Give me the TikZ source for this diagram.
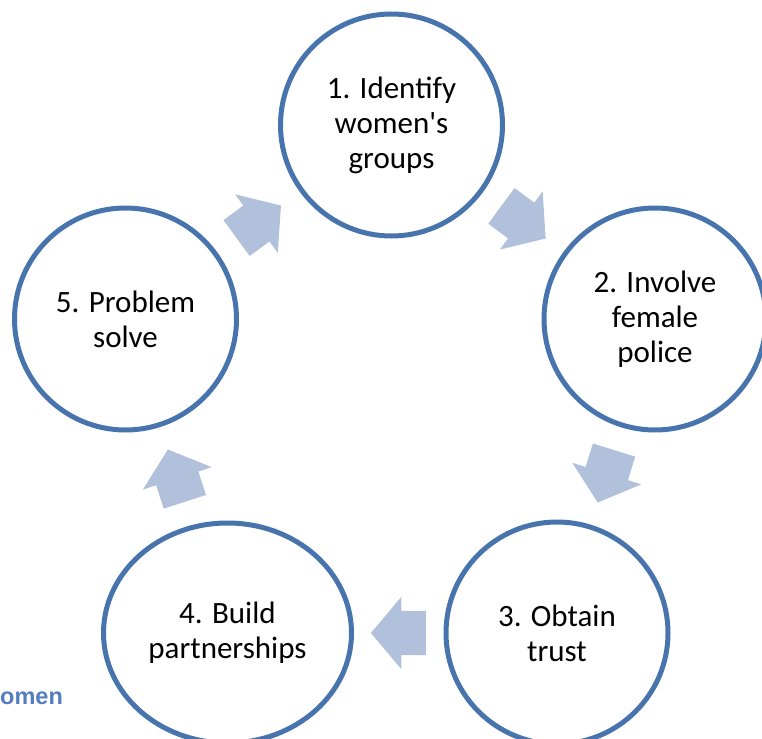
\documentclass[tikz,border=0pt]{standalone}
\usepackage{fontspec}
\newfontfamily\stagefont{Carlito}
\newfontfamily\capfont{Liberation Sans}
\usetikzlibrary{shapes.geometric,shapes.arrows}
\definecolor{ringblue}{RGB}{72,116,173}
\definecolor{arrowfill}{RGB}{178,193,219}
\definecolor{capblue}{RGB}{82,126,192}
\tikzset{
  stage/.style={circle,draw=ringblue,line width=5pt,minimum size=222pt,inner sep=0pt,align=center,font=\stagefont\fontsize{31}{35}\selectfont},
  wide/.style={ellipse,minimum width=248pt,minimum height=220pt},
  cyc/.style={single arrow,fill=arrowfill,inner xsep=0pt,inner ysep=22pt,minimum height=55pt,single arrow head extend=14pt,single arrow tip angle=100,sloped,allow upside down,xshift=-9pt}
}

\begin{document}
\begin{tikzpicture}[x=1pt,y=-1pt]
\useasboundingbox (0,0) rectangle (762,738);
\clip (0,0) rectangle (762,738);
\node[stage] (c1) at (391.5,125) {1. Identify\\women's\\groups};
\node[stage] (c2) at (655,319) {2. Involve\\female\\police};
\node[stage] (c3) at (557,633) {3. Obtain\\trust};
\node[stage,wide] (c4) at (227.5,633) {4. Build\\partnerships};
\node[stage] (c5) at (125.5,319) {5. Problem\\solve};
\foreach \i/\j in {1/2,2/3,3/4,4/5,5/1}{\path (c\i) -- node[cyc] (a\i) {} (c\j);}
\node[font=\capfont\bfseries\fontsize{23.5}{28}\selectfont,text=capblue,anchor=base west,inner sep=0pt] (cap) at (0,704) {omen};
\end{tikzpicture}
\end{document}
